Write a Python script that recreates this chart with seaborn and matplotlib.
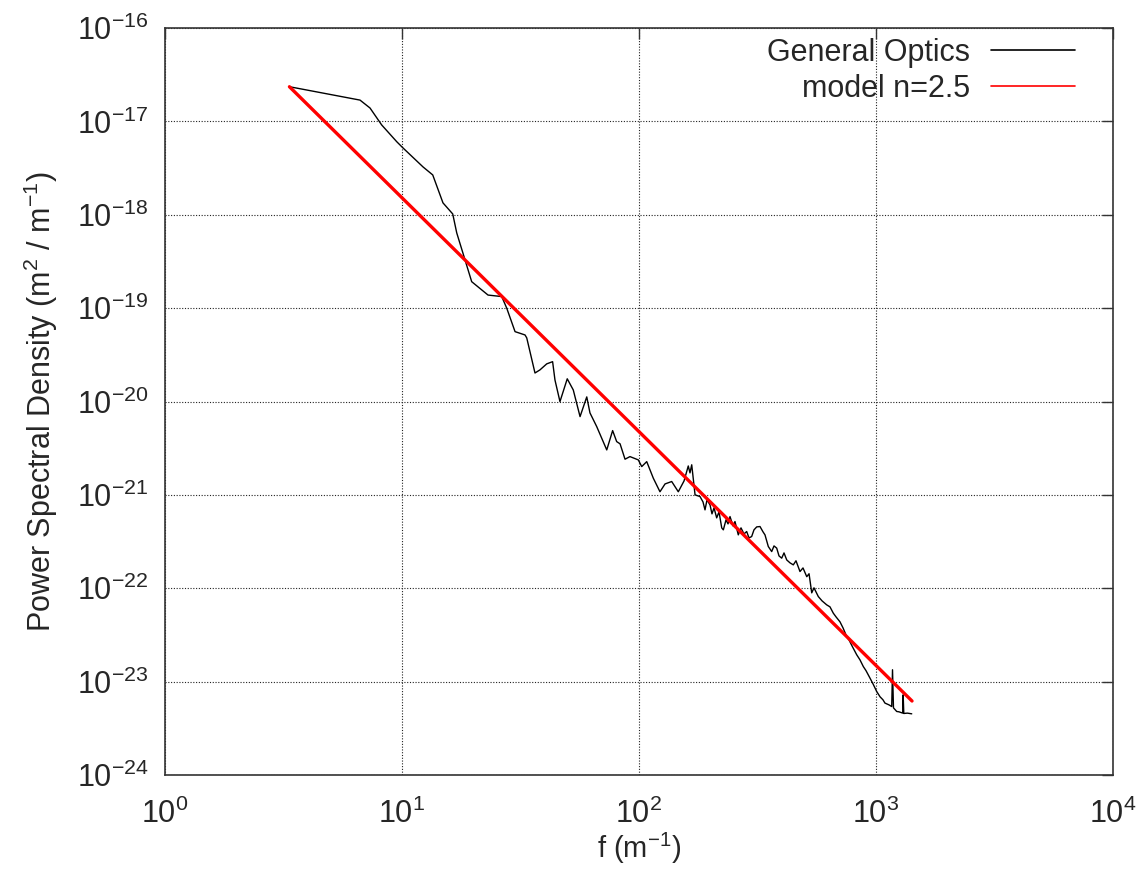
import matplotlib
matplotlib.use("Agg")
import matplotlib.pyplot as plt
from matplotlib.ticker import FixedLocator, LogFormatterMathtext, NullLocator
import seaborn as sns
import pandas as pd

# Measured surface PSD (General Optics), spatial frequency in 1/m, PSD in m^2 / m^-1
freq = [
    3.35, 6.65, 7.33, 8.21, 9.50, 10.1, 12.27, 13.48, 14.89, 16.37,
    17.02, 18.45, 19.68, 23.07, 26.35, 27.66, 29.99, 33.04, 33.6, 36.4,
    38.2, 40.8, 43.2, 44.2, 46.4, 49.8, 52.8, 56.4, 60.2, 62.1,
    66.3, 73.1, 77.4, 80.5, 83.2, 87.3, 91.6, 99.3, 102.7, 107.8,
    114.9, 122.6, 128.8, 137.4, 146.5, 154.9, 161.4, 164.1, 166.9, 172.4,
    180.9, 186.2, 189.9, 193.6, 199.4, 203.2, 207.3, 212.7, 217.6, 223.4,
    226.9, 232.9, 237.5, 242.1, 249.2, 254.1, 262.4, 269.4, 277.3, 284.7,
    291.1, 298.8, 305.6, 313.8, 324.0, 333.6, 340.1, 351.2, 363.0, 371.2,
    381.1, 389.7, 400.1, 409.1, 420.1, 433.7, 447.8, 459.6, 477.8, 492.0,
    510.3, 521.8, 535.6, 547.5, 570.9, 591.9, 619.4, 639.5, 660.4, 678.0,
    704.7, 725.6, 752.1, 769.1, 791.8, 829.0, 856.0, 884.1, 907.6, 943.4,
    971.2, 1007, 1040, 1070, 1091, 1134, 1165, 1174, 1185, 1223,
    1250, 1296, 1302, 1310, 1356, 1415,
]
psd = [
    2.35e-17, 1.69e-17, 1.39e-17, 9.15e-18, 6.06e-18, 5.19e-18, 3.25e-18, 2.67e-18, 1.34e-18, 1.02e-18,
    6.39e-19, 3.28e-19, 1.92e-19, 1.38e-19, 1.33e-19, 1.00e-19, 5.60e-20, 5.16e-20, 4.80e-20, 2.02e-20,
    2.18e-20, 2.53e-20, 2.67e-20, 1.70e-20, 9.97e-21, 1.75e-20, 1.33e-20, 6.89e-21, 1.12e-20, 7.55e-21,
    5.39e-21, 3.03e-21, 4.88e-21, 3.72e-21, 3.52e-21, 2.41e-21, 2.57e-21, 2.37e-21, 2.01e-21, 2.27e-21,
    1.51e-21, 1.08e-21, 1.31e-21, 1.39e-21, 1.08e-21, 1.41e-21, 2.04e-21, 1.72e-21, 2.10e-21, 1.00e-21,
    9.59e-22, 8.41e-22, 6.91e-22, 8.84e-22, 7.81e-22, 6.26e-22, 7.26e-22, 5.67e-22, 6.58e-22, 4.43e-22,
    4.22e-22, 5.40e-22, 4.89e-22, 5.86e-22, 4.66e-22, 5.18e-22, 3.73e-22, 4.43e-22, 3.82e-22, 4.05e-22,
    3.46e-22, 3.58e-22, 4.22e-22, 4.54e-22, 4.58e-22, 4.02e-22, 3.73e-22, 2.80e-22, 2.47e-22, 2.84e-22,
    2.69e-22, 2.22e-22, 2.10e-22, 2.39e-22, 2.01e-22, 1.87e-22, 1.78e-22, 1.97e-22, 1.51e-22, 1.65e-22,
    1.33e-22, 1.43e-22, 8.93e-23, 1.01e-22, 8.15e-23, 7.33e-23, 6.64e-23, 6.32e-23, 5.41e-23, 4.94e-23,
    4.37e-23, 3.77e-23, 3.04e-23, 2.80e-23, 2.42e-23, 1.94e-23, 1.71e-23, 1.45e-23, 1.31e-23, 1.09e-23,
    9.47e-24, 7.83e-24, 6.88e-24, 6.39e-24, 5.89e-24, 5.64e-24, 5.41e-24, 1.34e-23, 5.24e-24, 4.79e-24,
    4.75e-24, 4.60e-24, 7.22e-24, 4.56e-24, 4.60e-24, 4.52e-24,
]

# Power-law model (n = 2.5), straight line in log-log between its end points
model_freq = [3.35, 1419]
model_psd = [2.35e-17, 6.2e-24]

series_labels = ["General Optics", "model n=2.5"]
x_ticks = [1e0, 1e1, 1e2, 1e3, 1e4]
y_ticks = [1e-24, 1e-23, 1e-22, 1e-21, 1e-20, 1e-19, 1e-18, 1e-17, 1e-16]

measured = pd.DataFrame({"f": freq, "psd": psd})
model = pd.DataFrame({"f": model_freq, "psd": model_psd})

sns.set_style("white")
plt.rcParams["font.family"] = ["Liberation Sans", "DejaVu Sans"]
plt.rcParams["mathtext.fontset"] = "custom"
plt.rcParams["mathtext.rm"] = "Liberation Sans"
plt.rcParams["mathtext.it"] = "Liberation Sans:italic"
plt.rcParams["mathtext.default"] = "regular"

fig = plt.figure(figsize=(11.38, 8.73), dpi=100)
ax = fig.add_axes([165 / 1138, 1 - 775 / 873, 948 / 1138, 747 / 873])

sns.lineplot(data=measured, x="f", y="psd", ax=ax, color="black", lw=1.0,
             sort=False, estimator=None, label=series_labels[0])
sns.lineplot(data=model, x="f", y="psd", ax=ax, color="#ff0000", lw=2.4,
             sort=False, estimator=None, label=series_labels[1])

ax.set_xscale("log")
ax.set_yscale("log")
ax.set_xlim(x_ticks[0], x_ticks[-1])
ax.set_ylim(y_ticks[0], y_ticks[-1])
ax.xaxis.set_major_locator(FixedLocator(x_ticks))
ax.yaxis.set_major_locator(FixedLocator(y_ticks))
ax.xaxis.set_major_formatter(LogFormatterMathtext())
ax.yaxis.set_major_formatter(LogFormatterMathtext())
ax.xaxis.set_minor_locator(NullLocator())
ax.yaxis.set_minor_locator(NullLocator())

ax.grid(True, which="major", color="#222222", linestyle=(0, (1, 1.5)), lw=0.8)
ax.set_axisbelow(True)
for sp in ax.spines.values():
    sp.set_color("#333333")
    sp.set_linewidth(1.2)

ax.tick_params(axis="both", which="major", direction="in", length=8, width=1.0,
               top=True, right=True, labelsize=22, color="#333333")
ax.tick_params(axis="x", pad=17)
ax.tick_params(axis="y", pad=12)

ax.set_xlabel("f (m$^{-1}$)", fontsize=21, labelpad=1)
ax.set_ylabel("Power Spectral Density (m$^{2}$ / m$^{-1}$)", fontsize=22, labelpad=12)

leg = ax.legend(loc="upper right", bbox_to_anchor=(0.96, 0.987), frameon=False,
                markerfirst=False, fontsize=22, handlelength=2.75,
                handletextpad=0.7, labelspacing=0.2, borderpad=0, borderaxespad=0)
for line in leg.get_lines():
    line.set_linewidth(1.2)

fig.savefig("out.png", dpi=100)
